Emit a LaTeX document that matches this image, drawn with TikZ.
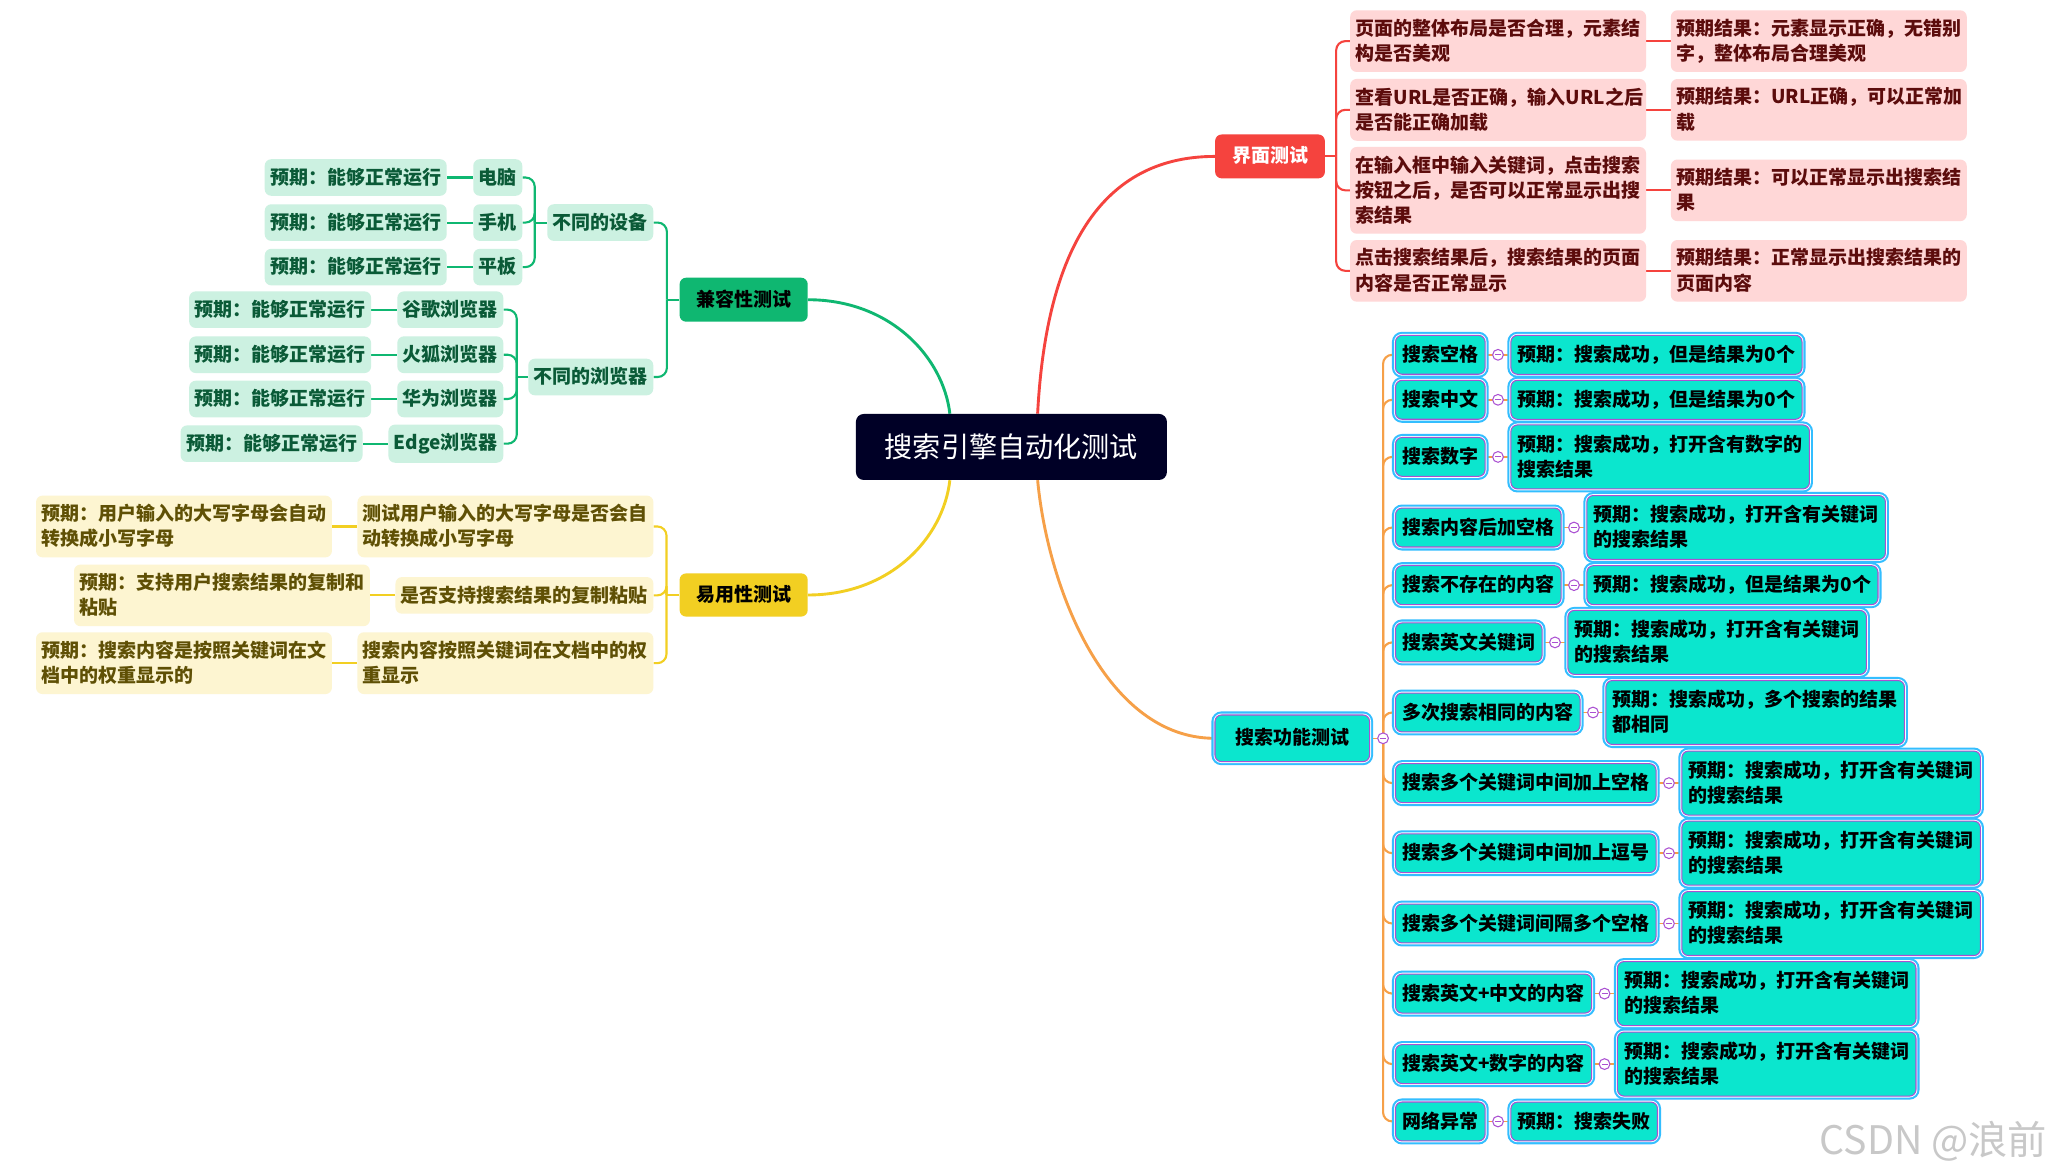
\documentclass[tikz,border=0pt]{standalone}
\usepackage{fontspec}
\setmainfont{Noto Sans CJK SC}
\usetikzlibrary{backgrounds,calc}
\definecolor{navy}{RGB}{0,0,38}
\definecolor{redmain}{RGB}{245,67,62}
\definecolor{pinkfill}{RGB}{255,215,215}
\definecolor{pinktext}{RGB}{92,12,12}
\definecolor{greenmain}{RGB}{15,183,113}
\definecolor{greenfill}{RGB}{204,241,225}
\definecolor{greentext}{RGB}{10,90,55}
\definecolor{yellowmain}{RGB}{242,207,34}
\definecolor{yellowfill}{RGB}{253,245,209}
\definecolor{yellowtext}{RGB}{95,80,5}
\definecolor{cyanfill}{RGB}{11,230,206}
\definecolor{blueline}{RGB}{51,190,255}
\definecolor{purpleline}{RGB}{170,80,210}
\definecolor{orangeline}{RGB}{246,160,72}
\definecolor{wmgray}{RGB}{200,200,200}
\newcommand\cjkstrut{\rule[-2.3pt]{0pt}{14.5pt}}
\tikzset{
  txt/.style={font=\fontsize{14.5}{19.1}\selectfont\bfseries, execute at begin node=\cjkstrut, execute at end node=\cjkstrut},
  light/.style={txt, rounded corners=5pt, inner xsep=4.2pt, inner ysep=6.6pt},
  pinkbox/.style={light, fill=pinkfill, text=pinktext},
  greenbox/.style={light, fill=greenfill, text=greentext},
  yellowbox/.style={light, fill=yellowfill, text=yellowtext},
  wide/.style={text width=217.5pt, align=left},
  cyanbox/.style={txt, rounded corners=5pt, inner xsep=5.2pt, inner ysep=7.4pt, fill=cyanfill, text=black, draw=purpleline, line width=0.8pt, preaction={draw=blueline, line width=5.4pt}, preaction={draw=white, line width=2.2pt}},
  topic/.style={txt, rounded corners=5pt, inner sep=0pt},
  central/.style={rounded corners=6pt, fill=navy, text=white, font=\fontsize{21.5}{26}\selectfont, minimum width=237.4pt, minimum height=50.4pt, inner sep=0pt},
  collapse/.style={circle, draw=purpleline, fill=white, line width=0.8pt, minimum size=8.2pt, inner sep=0pt, path picture={\draw[purpleline, line width=0.7pt] ([xshift=1.8pt]path picture bounding box.west) -- ([xshift=-1.8pt]path picture bounding box.east);}},
  curve/.style={line width=2.2pt},
  bline/.style={line width=1.6pt, rounded corners=7pt},
  link/.style={line width=1.6pt},
  thinlink/.style={orangeline, line width=1.1pt},
}
\begin{document}
\begin{tikzpicture}[x=1pt, y=-1pt]
\useasboundingbox (0,0) rectangle (1568,897);

% root
\node[central] (root) at (772.1,341.2) {搜索引擎自动化测试};

% ---------- 界面测试 ----------
\node[topic, fill=redmain, text=white, minimum width=83.8pt, minimum height=33.5pt] (ui) at (969.5,119.4) {界面测试};
\node[pinkbox, wide, anchor=west] (ui1) at (1030.5,31.4) {页面的整体布局是否合理，元素结\\构是否美观};
\node[pinkbox, wide, anchor=west] (ui2) at (1030.5,83.85) {查看URL是否正确，输入URL之后\\是否能正确加载};
\node[pinkbox, wide, anchor=west] (ui3) at (1030.5,145.3) {在输入框中输入关键词，点击搜索\\按钮之后，是否可以正常显示出搜\\索结果};
\node[pinkbox, wide, anchor=west] (ui4) at (1030.5,206.75) {点击搜索结果后，搜索结果的页面\\内容是否正常显示};
\node[pinkbox, wide, anchor=west] (uir1) at (1275.3,31.4) {预期结果：元素显示正确，无错别\\字，整体布局合理美观};
\node[pinkbox, wide, anchor=west] (uir2) at (1275.3,83.85) {预期结果：URL正确，可以正常加\\载};
\node[pinkbox, wide, anchor=west] (uir3) at (1275.3,145.3) {预期结果：可以正常显示出搜索结\\果};
\node[pinkbox, wide, anchor=west] (uir4) at (1275.3,206.75) {预期结果：正常显示出搜索结果的\\页面内容};
\coordinate (uiB) at ([xshift=8.4pt]ui.east);

% ---------- 兼容性测试 ----------
\node[topic, fill=greenmain, text=black, minimum width=97.8pt, minimum height=33.6pt] (compat) at (567.7,228.8) {兼容性测试};
\node[greenbox, anchor=east] (dev) at (498.9,169.9) {不同的设备};
\node[greenbox, anchor=east] (brw) at (498.9,287.8) {不同的浏览器};
\node[greenbox, anchor=east] (pc) at (398.9,135.5) {电脑};
\node[greenbox, anchor=east] (phone) at (398.9,169.9) {手机};
\node[greenbox, anchor=east] (pad) at (398.9,203.9) {平板};
\node[greenbox, anchor=east] (pcE) at ([xshift=-19.9pt]pc.west) {预期：能够正常运行};
\node[greenbox, anchor=east] (phoneE) at ([xshift=-19.9pt]phone.west) {预期：能够正常运行};
\node[greenbox, anchor=east] (padE) at ([xshift=-19.9pt]pad.west) {预期：能够正常运行};
\node[greenbox, anchor=east] (gg) at (384.4,236.4) {谷歌浏览器};
\node[greenbox, anchor=east] (hh) at (384.4,270.8) {火狐浏览器};
\node[greenbox, anchor=east] (hw) at (384.4,304.6) {华为浏览器};
\node[greenbox, anchor=east] (eg) at (384.4,338.7) {Edge浏览器};
\node[greenbox, anchor=east] (ggE) at ([xshift=-19.6pt]gg.west) {预期：能够正常运行};
\node[greenbox, anchor=east] (hhE) at ([xshift=-19.6pt]hh.west) {预期：能够正常运行};
\node[greenbox, anchor=east] (hwE) at ([xshift=-19.6pt]hw.west) {预期：能够正常运行};
\node[greenbox, anchor=east] (egE) at ([xshift=-19.4pt]eg.west) {预期：能够正常运行};
\coordinate (compatB) at ([xshift=-9.5pt]compat.west);
\coordinate (devB) at ([xshift=-9.4pt]dev.west);
\coordinate (brwB) at ([xshift=-8.6pt]brw.west);

% ---------- 易用性测试 ----------
\node[topic, fill=yellowmain, text=black, minimum width=97.8pt, minimum height=33pt] (ease) at (567.7,454.2) {易用性测试};
\node[yellowbox, wide, anchor=east] (ez1) at (499,401.9) {测试用户输入的大写字母是否会自\\动转换成小写字母};
\node[yellowbox, anchor=east] (ez2) at (499,454.5) {是否支持搜索结果的复制粘贴};
\node[yellowbox, wide, anchor=east] (ez3) at (499,506.25) {搜索内容按照关键词在文档中的权\\重显示};
\node[yellowbox, wide, anchor=east] (ezE1) at ([xshift=-19.1pt]ez1.west) {预期：用户输入的大写字母会自动\\转换成小写字母};
\node[yellowbox, wide, anchor=east] (ezE2) at ([xshift=-19.1pt]ez2.west) {预期：支持用户搜索结果的复制和\\粘贴};
\node[yellowbox, wide, anchor=east] (ezE3) at ([xshift=-19.1pt]ez3.west) {预期：搜索内容是按照关键词在文\\档中的权重显示的};
\coordinate (easeB) at ([xshift=-9.8pt]ease.west);

% ---------- 搜索功能测试 ----------
\node[cyanbox, minimum width=118pt, minimum height=35.6pt] (func) at (986.5,563.6) {搜索功能测试};
\node[collapse] (k0) at ([xshift=9.9pt]func.east) {};

\node[cyanbox, anchor=west] (s1) at (1064.9,270.85) {搜索空格};
\node[cyanbox, anchor=west] (s2) at (1064.9,305.2) {搜索中文};
\node[cyanbox, anchor=west] (s3) at (1064.9,348.8) {搜索数字};
\node[cyanbox, anchor=west] (s4) at (1064.9,402.7) {搜索内容后加空格};
\node[cyanbox, anchor=west] (s5) at (1064.9,446.7) {搜索不存在的内容};
\node[cyanbox, anchor=west] (s6) at (1064.9,490.4) {搜索英文关键词};
\node[cyanbox, anchor=west] (s7) at (1064.9,543.9) {多次搜索相同的内容};
\node[cyanbox, anchor=west] (s8) at (1064.9,597.8) {搜索多个关键词中间加上空格};
\node[cyanbox, anchor=west] (s9) at (1064.9,651.3) {搜索多个关键词中间加上逗号};
\node[cyanbox, anchor=west] (s10) at (1064.9,705) {搜索多个关键词间隔多个空格};
\node[cyanbox, anchor=west] (s11) at (1064.9,758.5) {搜索英文+中文的内容};
\node[cyanbox, anchor=west] (s12) at (1064.9,812.3) {搜索英文+数字的内容};
\node[cyanbox, anchor=west] (s13) at (1064.9,856.1) {网络异常};

\node[cyanbox, anchor=west] (x1) at ([xshift=18.9pt]s1.east) {预期：搜索成功，但是结果为0个};
\node[cyanbox, anchor=west] (x2) at ([xshift=18.9pt]s2.east) {预期：搜索成功，但是结果为0个};
\node[cyanbox, wide, anchor=west] (x3) at ([xshift=18.9pt]s3.east) {预期：搜索成功，打开含有数字的\\搜索结果};
\node[cyanbox, wide, anchor=west] (x4) at ([xshift=18.9pt]s4.east) {预期：搜索成功，打开含有关键词\\的搜索结果};
\node[cyanbox, anchor=west] (x5) at ([xshift=18.9pt]s5.east) {预期：搜索成功，但是结果为0个};
\node[cyanbox, wide, anchor=west] (x6) at ([xshift=18.9pt]s6.east) {预期：搜索成功，打开含有关键词\\的搜索结果};
\node[cyanbox, wide, anchor=west] (x7) at ([xshift=18.9pt]s7.east) {预期：搜索成功，多个搜索的结果\\都相同};
\node[cyanbox, wide, anchor=west] (x8) at ([xshift=18.9pt]s8.east) {预期：搜索成功，打开含有关键词\\的搜索结果};
\node[cyanbox, wide, anchor=west] (x9) at ([xshift=18.9pt]s9.east) {预期：搜索成功，打开含有关键词\\的搜索结果};
\node[cyanbox, wide, anchor=west] (x10) at ([xshift=18.9pt]s10.east) {预期：搜索成功，打开含有关键词\\的搜索结果};
\node[cyanbox, wide, anchor=west] (x11) at ([xshift=18.9pt]s11.east) {预期：搜索成功，打开含有关键词\\的搜索结果};
\node[cyanbox, wide, anchor=west] (x12) at ([xshift=18.9pt]s12.east) {预期：搜索成功，打开含有关键词\\的搜索结果};
\node[cyanbox, anchor=west] (x13) at ([xshift=18.9pt]s13.east) {预期：搜索失败};

\foreach \n in {1,...,13}{
  \node[collapse] (k\n) at ($(s\n.east)!0.5!(x\n.west)$) {};
}

% watermark
\node[anchor=west, text=wmgray, font=\fontsize{30}{30}\selectfont, inner sep=0pt] (wm) at (1389,871) {CSDN @浪前};

% ---------- connectors ----------
\begin{scope}[on background layer]
\fill[white] (0,0) rectangle (1568,897);
\draw[curve, redmain] ([xshift=20pt]root.north) .. controls +(6,-116) and +(-92,0) .. (ui.west);
\draw[curve, greenmain] ([xshift=-47pt]root.north) .. controls +(-5,-43) and +(63,0) .. (compat.east);
\draw[curve, yellowmain] ([xshift=-47pt]root.south) .. controls +(-5,44) and +(63,0) .. (ease.east);
\draw[curve, orangeline] ([xshift=20pt]root.south) .. controls +(8,84) and +(-82,0) .. (func.west);

\draw[link, redmain] (ui.east) -- (uiB);
\foreach \n in {1,...,4}{
  \draw[bline, redmain] (uiB) |- (ui\n.west);
  \draw[link, redmain] (ui\n.east) -- (uir\n.west);
}

\draw[link, greenmain] (compat.west) -- (compatB);
\draw[bline, greenmain] (compatB) |- (dev.east);
\draw[bline, greenmain] (compatB) |- (brw.east);
\draw[link, greenmain] (dev.west) -- (devB);
\foreach \a in {pc,phone,pad}{
  \draw[bline, greenmain] (devB) |- (\a.east);
  \draw[link, greenmain] (\a.west) -- (\a E.east);
}
\draw[link, greenmain] (brw.west) -- (brwB);
\foreach \a in {gg,hh,hw,eg}{
  \draw[bline, greenmain] (brwB) |- (\a.east);
  \draw[link, greenmain] (\a.west) -- (\a E.east);
}

\draw[link, yellowmain] (ease.west) -- (easeB);
\foreach \n in {1,2,3}{
  \draw[bline, yellowmain] (easeB) |- (ez\n.east);
  \draw[link, yellowmain] (ez\n.west) -- (ezE\n.east);
}

\draw[thinlink] (func.east) -- (k0.center);
\foreach \n in {1,...,13}{
  \draw[bline, orangeline] (k0.center) |- (s\n.west);
  \draw[thinlink] (s\n.east) -- (x\n.west);
}
\end{scope}
\end{tikzpicture}
\end{document}
